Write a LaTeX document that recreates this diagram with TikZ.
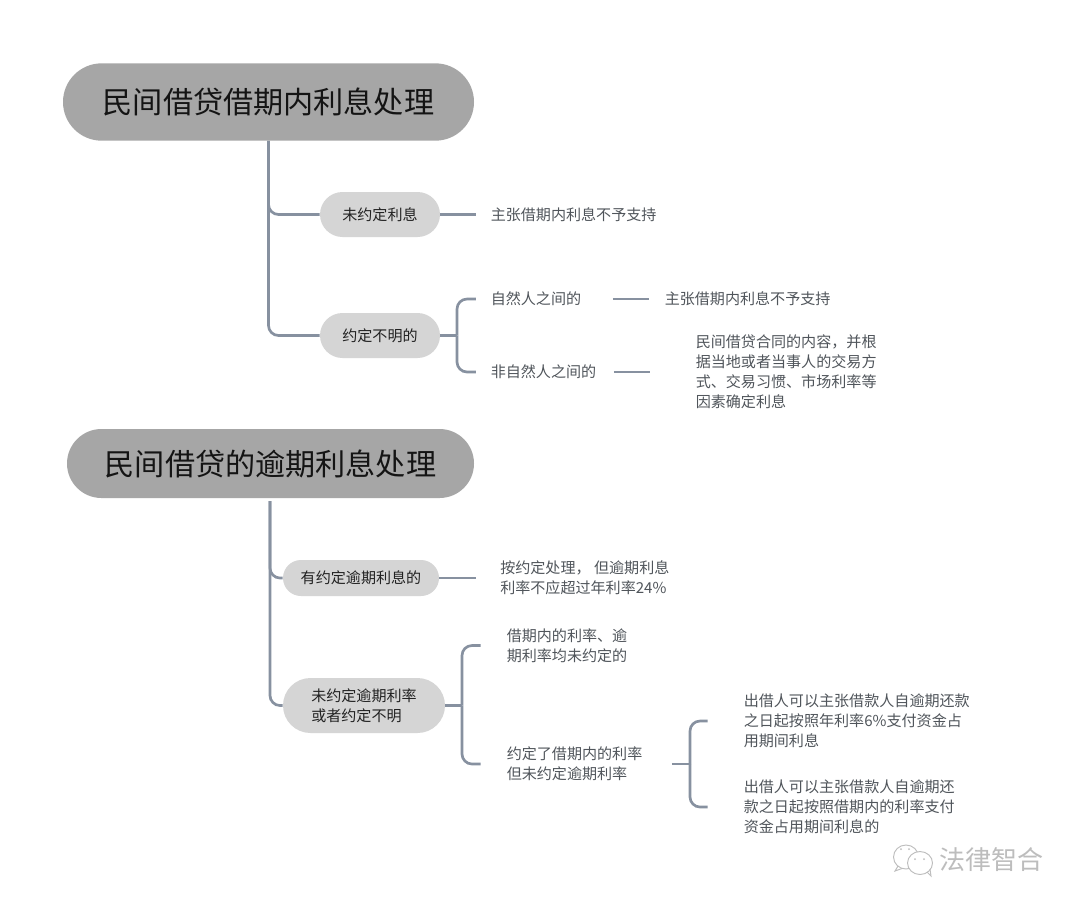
\documentclass[tikz,border=0pt]{standalone}
\usepackage{fontspec}
\setmainfont{Noto Sans CJK SC}
\usetikzlibrary{shapes.misc}
\definecolor{conncol}{HTML}{8791A0}
\definecolor{titlefill}{HTML}{A6A6A6}
\definecolor{pillfill}{HTML}{D5D5D5}
\definecolor{inktitle}{HTML}{141414}
\definecolor{inkpill}{HTML}{222222}
\definecolor{inkbody}{HTML}{50555B}
\definecolor{wm}{HTML}{BDBDBD}
\tikzset{
  conn/.style={draw=conncol,line width=2pt,rounded corners=7.5pt,line cap=butt},
  titlepill/.style={rounded rectangle,fill=titlefill,text=inktitle,inner sep=0pt,font=\fontsize{22.6}{27}\selectfont},
  pill/.style={rounded rectangle,fill=pillfill,text=inkpill,inner sep=0pt,align=left,font=\fontsize{11.3}{15}\selectfont},
  body/.style={anchor=west,inner sep=0pt,text=inkbody,align=left,font=\fontsize{11.3}{15}\selectfont},
}
\begin{document}
\begin{tikzpicture}[x=0.75pt,y=-0.75pt]
\useasboundingbox (0,0) rectangle (1080,908);
\fill[white] (0,0) rectangle (1080,908);
% nodes: first tree
\node[titlepill,minimum width=308.25pt,minimum height=58pt] (t1) at (268.5,102) {民间借贷借期内利息处理};
\node[pill,minimum width=90pt,minimum height=33.75pt] (a1) at (380,214.5) {未约定利息};
\node[pill,minimum width=90pt,minimum height=33.75pt] (a2) at (380,335.5) {约定不明的};
\node[body] (b1) at (490.5,214.5) {主张借期内利息不予支持};
\node[body] (c1) at (490.5,299) {自然人之间的};
\node[body] (c2) at (490.5,372) {非自然人之间的};
\node[body] (d1) at (664.5,299) {主张借期内利息不予支持};
\node[body] (d2) at (695.5,372) {民间借贷合同的内容，并根\\据当地或者当事人的交易方\\式、交易习惯、市场利率等\\因素确定利息};
\coordinate (j1) at (457,335.5);
% nodes: second tree
\node[titlepill,minimum width=305.25pt,minimum height=51.75pt] (t2) at (270.5,463.5) {民间借贷的逾期利息处理};
\node[pill,minimum width=117pt,minimum height=27pt] (e1) at (361,578) {有约定逾期利息的};
\node[pill,minimum width=121.5pt,minimum height=41.25pt] (e2) at (364,705.5) {未约定逾期利率\\或者约定不明};
\node[body] (f1) at (500,577.5) {按约定处理， 但逾期利息\\利率不应超过年利率24\%};
\node[body] (g1) at (506.5,645.5) {借期内的利率、逾\\期利率均未约定的};
\node[body] (g2) at (506.5,764) {约定了借期内的利率\\但未约定逾期利率};
\node[body] (h1) at (743.5,721) {出借人可以主张借款人自逾期还款\\之日起按照年利率6\%支付资金占\\用期间利息};
\node[body] (h2) at (743.5,807) {出借人可以主张借款人自逾期还\\款之日起按照借期内的利率支付\\资金占用期间利息的};
\coordinate (j2) at (462,705.5);
\coordinate (j3) at (690,764);
\coordinate (t2foot) at (270,501);
% connectors: first tree
\draw[conn] (t1.south) |- (a1.west);
\draw[conn] (t1.south) |- (a2.west);
\draw[conn,shorten >=11pt] (a1.east) -- (b1.west);
\draw[conn] (a2.east) -- (j1);
\draw[conn,shorten >=11pt] (j1) |- (c1.west);
\draw[conn,shorten >=11pt] (j1) |- (c2.west);
\draw[conn,shorten <=23.5pt,shorten >=12pt] (c1.east) -- (d1.west);
\draw[conn,shorten <=13pt,shorten >=34.5pt] (c2.east) -- (d2.west);
% connectors: second tree
\draw[conn] (t2foot) |- (e1.west);
\draw[conn] (t2foot) |- (e2.west);
\draw[conn,shorten >=18pt] (e1.east) -- (f1.west |- e1.east);
\draw[conn] (e2.east) -- (j2);
\draw[conn,shorten >=19.5pt] (j2) |- (g1.west);
\draw[conn,shorten >=19.5pt] (j2) |- (g2.west);
\draw[conn,shorten <=22pt] (g2.east) -- (j3);
\draw[conn,shorten >=27pt] (j3) |- (h1.west);
\draw[conn,shorten >=27pt] (j3) |- (h2.west);
% watermark
\node[inner sep=0pt,text=wm,font=\fontsize{19.5}{24}\selectfont] (wmtext) at (991,860) {法律智合};
\draw[wm,line width=0.7pt,fill=white] (906,857) ellipse (12.5 and 12);
\draw[wm,line width=0.7pt] (898,866) -- (895,871) -- (902,868.5);
\draw[wm,line width=0.7pt,fill=white] (920,863) ellipse (12.5 and 11.5);
\draw[wm,line width=0.7pt] (927,872) -- (931,876) -- (930,869);
\fill[wm] (901,849) circle (1) (909,849) circle (1) (915,859) circle (1) (924,859) circle (1);
\end{tikzpicture}
\end{document}
